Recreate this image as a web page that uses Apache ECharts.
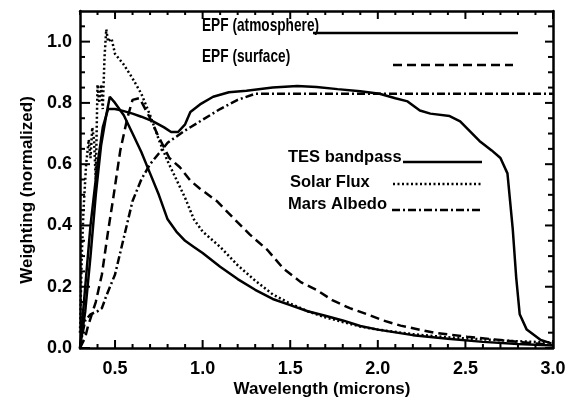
<!DOCTYPE html>
<html><head><meta charset="utf-8">
<script src="https://cdn.jsdelivr.net/npm/echarts@6/dist/echarts.min.js"></script>
<style>html,body{margin:0;padding:0;background:#fff}#c{width:581px;height:401px}</style>
</head><body><div id="c"></div>
<script>
// Wavelength (microns), weighting (normalized)
const tesBandpass = [[0.30,0.0],[0.33,0.2],[0.36,0.4],[0.40,0.6],[0.43,0.72],[0.46,0.78],[0.50,0.78],[0.545,0.774],[0.60,0.765],[0.65,0.755],[0.717,0.74],[0.78,0.72],[0.82,0.705],[0.86,0.705],[0.90,0.73],[0.93,0.77],[0.985,0.795],[1.06,0.82],[1.15,0.835],[1.25,0.84],[1.4,0.85],[1.54,0.855],[1.65,0.852],[1.77,0.845],[1.9,0.838],[2.01,0.83],[2.1,0.815],[2.17,0.805],[2.24,0.775],[2.3,0.765],[2.41,0.757],[2.47,0.74],[2.58,0.676],[2.65,0.645],[2.70,0.62],[2.74,0.57],[2.77,0.39],[2.79,0.23],[2.81,0.11],[2.85,0.06],[2.93,0.026],[2.99,0.015]];
const solarFlux = [[0.30,0.05],[0.31,0.3],[0.32,0.45],[0.335,0.6],[0.35,0.68],[0.36,0.62],[0.37,0.72],[0.38,0.68],[0.39,0.55],[0.40,0.86],[0.41,0.80],[0.42,0.86],[0.43,0.78],[0.44,0.95],[0.45,1.04],[0.46,1.0],[0.48,1.01],[0.50,0.96],[0.55,0.925],[0.60,0.88],[0.65,0.83],[0.70,0.76],[0.75,0.68],[0.80,0.61],[0.85,0.55],[0.90,0.49],[0.95,0.42],[1.0,0.38],[1.1,0.33],[1.2,0.27],[1.3,0.22],[1.4,0.175],[1.5,0.145],[1.6,0.12],[1.7,0.1],[1.8,0.085],[1.9,0.07],[2.0,0.06],[2.2,0.045],[2.4,0.035],[2.6,0.028],[2.8,0.022],[3.0,0.018]];
const marsAlbedo = [[0.30,0.0],[0.315,0.05],[0.33,0.09],[0.36,0.11],[0.40,0.12],[0.425,0.13],[0.45,0.17],[0.50,0.24],[0.55,0.36],[0.60,0.48],[0.65,0.55],[0.70,0.60],[0.75,0.635],[0.80,0.67],[0.90,0.71],[1.0,0.745],[1.1,0.78],[1.2,0.81],[1.3,0.83],[1.5,0.83],[3.0,0.83]];
const epfAtmosphere = [[0.30,0.0],[0.33,0.12],[0.36,0.3],[0.39,0.5],[0.42,0.66],[0.45,0.76],[0.47,0.82],[0.50,0.80],[0.55,0.76],[0.60,0.70],[0.65,0.64],[0.70,0.57],[0.75,0.50],[0.80,0.42],[0.85,0.38],[0.90,0.35],[0.95,0.33],[1.0,0.31],[1.1,0.265],[1.2,0.225],[1.3,0.19],[1.4,0.16],[1.5,0.14],[1.6,0.12],[1.7,0.105],[1.8,0.09],[1.9,0.072],[2.0,0.06],[2.2,0.042],[2.4,0.03],[2.6,0.02],[2.8,0.013],[3.0,0.008]];
const epfSurface = [[0.30,0.0],[0.33,0.035],[0.345,0.07],[0.39,0.15],[0.425,0.24],[0.46,0.38],[0.49,0.49],[0.53,0.645],[0.57,0.75],[0.60,0.81],[0.64,0.816],[0.70,0.75],[0.74,0.70],[0.81,0.62],[0.87,0.59],[0.93,0.546],[0.985,0.52],[1.08,0.48],[1.2,0.41],[1.27,0.37],[1.37,0.32],[1.46,0.26],[1.56,0.215],[1.65,0.19],[1.74,0.156],[1.84,0.13],[1.94,0.11],[2.03,0.09],[2.13,0.073],[2.32,0.05],[2.51,0.037],[2.70,0.026],[2.89,0.015],[3.0,0.01]];

// Tick positions (axis values)
const xTickValues = [0.3,0.4,0.5,0.6,0.7,0.8,0.9,1.0,1.1,1.2,1.3,1.4,1.5,1.6,1.7,1.8,1.9,2.0,2.1,2.2,2.3,2.4,2.5,2.6,2.7,2.8,2.9,3.0];
const xMajorTicks = [0.5,1.0,1.5,2.0,2.5,3.0];
const yTickValues = [0.0,0.05,0.1,0.15,0.2,0.25,0.3,0.35,0.4,0.45,0.5,0.55,0.6,0.65,0.7,0.75,0.8,0.85,0.9,0.95,1.0,1.05];
const yMajorTicks = [0.0,0.2,0.4,0.6,0.8,1.0];

const seriesNames = ['TES bandpass','Solar Flux','Mars Albedo','EPF (atmosphere)','EPF (surface)'];
const FONT = '"Liberation Sans", Arial, sans-serif';
const X_MIN = 0.3, X_MAX = 3.0, Y_MIN = 0, Y_MAX = 1.1;
const isIn = (arr, v) => arr.some(m => Math.abs(m - v) < 1e-6);
const isMajorX = v => isIn(xMajorTicks, v);

function xAx(pos, labels){
  return {type:'value', min:X_MIN, max:X_MAX, interval:0.1, position:pos,
    axisLine:{show:true, onZero:false, lineStyle:{color:'#000', width:2.5}},
    axisTick:{show:false},
    axisLabel:labels ? {show:true, formatter:v => isMajorX(v) ? v.toFixed(1) : '', color:'#000', fontSize:18, fontWeight:'bold', fontFamily:FONT, margin:12} : {show:false},
    splitLine:{show:false}};
}
function yAx(pos, labels){
  return {type:'value', min:Y_MIN, max:Y_MAX, interval:0.2, position:pos,
    axisLine:{show:true, onZero:false, lineStyle:{color:'#000', width:2.5}},
    axisTick:{show:false},
    minorTick:{show:false},
    axisLabel:labels ? {show:true, showMaxLabel:false, formatter:v => v.toFixed(1), color:'#000', fontSize:18, fontWeight:'bold', fontFamily:FONT, margin:8} : {show:false},
    splitLine:{show:false}};
}
function line(name, data, type){
  return {name, type:'line', data, xAxisIndex:0, yAxisIndex:0, showSymbol:false, symbol:'none',
    lineStyle:{color:'#000', width:2.5, type:type}};
}
const tickStyle = {stroke:'#000', lineWidth:2};

// Inward tick marks on all four sides, positioned through the axis scales
const xTickSeries = {
  type:'custom', name:'xticks', silent:true, clip:false, z:5, xAxisIndex:0, yAxisIndex:0,
  data: xTickValues.map(v => [v, Y_MIN]),
  encode:{x:0, y:1},
  renderItem:(params, api) => {
    const v = api.value(0);
    const len = isMajorX(v) ? 8 : 4;
    const b = api.coord([v, Y_MIN]);
    const t = api.coord([v, Y_MAX]);
    return {type:'group', children:[
      {type:'line', shape:{x1:b[0], y1:b[1], x2:b[0], y2:b[1] - len}, style:tickStyle},
      {type:'line', shape:{x1:t[0], y1:t[1], x2:t[0], y2:t[1] + len}, style:tickStyle}
    ]};
  }
};
const yTickSeries = {
  type:'custom', name:'yticks', silent:true, clip:false, z:5, xAxisIndex:0, yAxisIndex:0,
  data: yTickValues.map(v => [X_MIN, v]),
  encode:{x:0, y:1},
  renderItem:(params, api) => {
    const v = api.value(1);
    const major = isIn(yMajorTicks, v);
    const l = api.coord([X_MIN, v]);
    const r = api.coord([X_MAX, v]);
    return {type:'group', children:[
      {type:'line', shape:{x1:l[0], y1:l[1], x2:l[0] + (major ? 10 : 5), y2:l[1]}, style:tickStyle},
      {type:'line', shape:{x1:r[0], y1:r[1], x2:r[0] - (major ? 8 : 5), y2:r[1]}, style:tickStyle}
    ]};
  }
};

const chart = echarts.init(document.getElementById('c'));
chart.setOption({
  animation:false,
  backgroundColor:'#fff',
  tooltip:{show:false},
  grid:{left:80, right:28, top:11, bottom:53},
  xAxis:[xAx('bottom', true), xAx('top', false)],
  yAxis:[yAx('left', true), yAx('right', false)],
  series:[
    line(seriesNames[0], tesBandpass, 'solid'),
    line(seriesNames[1], solarFlux, [2,2.5]),
    line(seriesNames[2], marsAlbedo, [8,3,2,3]),
    line(seriesNames[3], epfAtmosphere, 'solid'),
    line(seriesNames[4], epfSurface, [9,5]),
    xTickSeries,
    yTickSeries
  ],
  graphic:[
    {type:'text', x:322, y:389, style:{text:'Wavelength (microns)', fill:'#000', font:'bold 17px '+FONT, textAlign:'center', textVerticalAlign:'middle'}},
    {type:'text', x:27, y:190, rotation:Math.PI/2, style:{text:'Weighting (normalized)', fill:'#000', font:'bold 17px '+FONT, textAlign:'center', textVerticalAlign:'middle'}},
    {type:'text', x:202, y:26, scaleX:0.72, style:{text:seriesNames[3], fill:'#000', font:'bold 19px '+FONT, textAlign:'left', textVerticalAlign:'middle'}},
    {type:'line', shape:{x1:313, y1:33, x2:518, y2:33}, style:{stroke:'#000', lineWidth:2.5}},
    {type:'text', x:202, y:57, scaleX:0.72, style:{text:seriesNames[4], fill:'#000', font:'bold 19px '+FONT, textAlign:'left', textVerticalAlign:'middle'}},
    {type:'line', shape:{x1:393, y1:65, x2:513, y2:65}, style:{stroke:'#000', lineWidth:2.5, lineDash:[9,5]}},
    {type:'text', x:288, y:157, style:{text:seriesNames[0], fill:'#000', font:'bold 16.5px '+FONT, textAlign:'left', textVerticalAlign:'middle'}},
    {type:'line', shape:{x1:403, y1:162, x2:482, y2:162}, style:{stroke:'#000', lineWidth:2.5}},
    {type:'text', x:290, y:182, style:{text:seriesNames[1], fill:'#000', font:'bold 16.5px '+FONT, textAlign:'left', textVerticalAlign:'middle'}},
    {type:'line', shape:{x1:393, y1:184, x2:483, y2:184}, style:{stroke:'#000', lineWidth:2.5, lineDash:[2,2.5]}},
    {type:'text', x:288, y:204, style:{text:seriesNames[2], fill:'#000', font:'bold 16.5px '+FONT, textAlign:'left', textVerticalAlign:'middle'}},
    {type:'line', shape:{x1:392, y1:210, x2:482, y2:210}, style:{stroke:'#000', lineWidth:2.5, lineDash:[8,3,2,3]}}
  ]
});
</script></body></html>
